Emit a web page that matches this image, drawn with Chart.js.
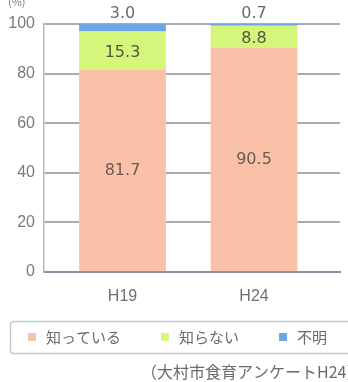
<!DOCTYPE html>
<html>
<head>
<meta charset="utf-8">
<script src="https://cdn.jsdelivr.net/npm/chart.js@4"></script>
<style>
  html, body { margin: 0; padding: 0; background: #ffffff; }
  #wrap { width: 348px; height: 382px; position: relative; }
</style>
</head>
<body>
<div id="wrap"><canvas id="c" width="348" height="382"></canvas></div>
<script>
// ---- data ----
const categories = ['H19', 'H24'];
const seriesNames = ['知っている', '知らない', '不明'];
const knowValues = [81.7, 90.5];
const notKnowValues = [15.3, 8.8];
const unknownValues = [3.0, 0.7];
const yTickValues = [0, 20, 40, 60, 80, 100];
const unitLabel = '(%)';
const sourceLabel = '（大村市食育アンケートH24）';

// ---- styles ----
const FONT = '"Noto Sans CJK JP", "Noto Sans", sans-serif';
const NUMFONT = '"Liberation Sans", "DejaVu Sans", sans-serif';
const LABELFONT = '"DejaVu Sans", sans-serif';
const colors = ['#f9c2a8', '#d6f57c', '#6fa5e4'];
const labelColors = ['#6a5a52', '#4c5a3c', '#6a6a6a'];

function toPoints(arr) { return arr.map((v, i) => ({ x: i, y: v })); }

const valueLabels = {
  id: 'valueLabels',
  afterDatasetsDraw(chart) {
    const ctx = chart.ctx;
    ctx.save();
    ctx.font = '16px ' + LABELFONT;
    ctx.textAlign = 'center';
    ctx.textBaseline = 'middle';
    chart.data.datasets.forEach((ds, di) => {
      const meta = chart.getDatasetMeta(di);
      meta.data.forEach((el, i) => {
        const v = ds.data[i].y;
        let y;
        if (di === 2) {
          y = el.y - 10;
        } else {
          y = (el.y + el.base) / 2 + (di === 1 ? 2 : 1);
        }
        ctx.fillStyle = labelColors[di];
        ctx.fillText(v.toFixed(1), el.x, y);
      });
    });
    ctx.restore();
  }
};

const extras = {
  id: 'extras',
  afterDraw(chart) {
    const ctx = chart.ctx;
    ctx.save();
    // unit label
    ctx.font = '11px ' + FONT;
    ctx.fillStyle = '#7a7a7a';
    ctx.textAlign = 'left';
    ctx.textBaseline = 'middle';
    ctx.fillText(unitLabel, 8, 2);

    // legend box
    ctx.strokeStyle = '#c9c9c9';
    ctx.lineWidth = 1.5;
    ctx.beginPath();
    if (ctx.roundRect) ctx.roundRect(10.5, 321.5, 345, 32, 3); else ctx.rect(10.5, 321.5, 345, 32);
    ctx.stroke();

    // legend items
    ctx.font = '15px ' + FONT;
    const box = 8, boxGap = 10, itemGap = 40;
    const widths = seriesNames.map(t => box + boxGap + ctx.measureText(t).width);
    const total = widths.reduce((a, b) => a + b, 0) + itemGap * (widths.length - 1);
    let x = 177.5 - total / 2;
    const cy = 337;
    seriesNames.forEach((t, i) => {
      ctx.fillStyle = colors[i];
      ctx.fillRect(x, cy - box / 2, box, box);
      ctx.fillStyle = '#6a6a6a';
      ctx.textBaseline = 'middle';
      ctx.fillText(t, x + box + boxGap, cy);
      x += widths[i] + itemGap;
    });

    // source
    ctx.font = '16px ' + FONT;
    ctx.fillStyle = '#6a6a6a';
    ctx.textAlign = 'left';
    ctx.fillText(sourceLabel, 141, 372);
    ctx.restore();
  }
};

new Chart(document.getElementById('c'), {
  type: 'bar',
  data: {
    datasets: [
      { label: seriesNames[0], data: toPoints(knowValues), backgroundColor: colors[0] },
      { label: seriesNames[1], data: toPoints(notKnowValues), backgroundColor: colors[1] },
      { label: seriesNames[2], data: toPoints(unknownValues), backgroundColor: colors[2] }
    ]
  },
  options: {
    responsive: false,
    animation: false,
    devicePixelRatio: 1,
    layout: { padding: { top: 24, right: 8, bottom: 0, left: 0 } },
    datasets: { bar: { categoryPercentage: 1.0, barPercentage: 0.66, borderWidth: 0 } },
    plugins: { legend: { display: false }, tooltip: { enabled: false } },
    scales: {
      x: {
        type: 'linear',
        stacked: true,
        offset: false,
        min: -0.597,
        max: 1.654,
        afterBuildTicks(scale) { scale.ticks = categories.map((c, i) => ({ value: i })); },
        afterFit(scale) { scale.height = 110; },
        ticks: {
          callback: (v) => categories[v],
          font: { family: NUMFONT, size: 16 },
          color: '#6f6f6f',
          padding: 15,
          maxRotation: 0
        },
        grid: { display: false, drawTicks: false, offset: false },
        border: { display: true, color: '#8c92a2', width: 2 }
      },
      y: {
        stacked: true,
        min: 0,
        max: 100,
        afterBuildTicks(scale) { scale.ticks = yTickValues.map(v => ({ value: v })); },
        afterFit(scale) { scale.width = 44; },
        ticks: {
          font: { family: NUMFONT, size: 16 },
          color: '#7a7a7a',
          padding: 9
        },
        grid: { color: '#aaaab2', lineWidth: 2, drawTicks: false },
        border: { display: true, color: '#b8b8c0', width: 1.5 }
      }
    }
  },
  plugins: [valueLabels, extras]
});
</script>
</body>
</html>
